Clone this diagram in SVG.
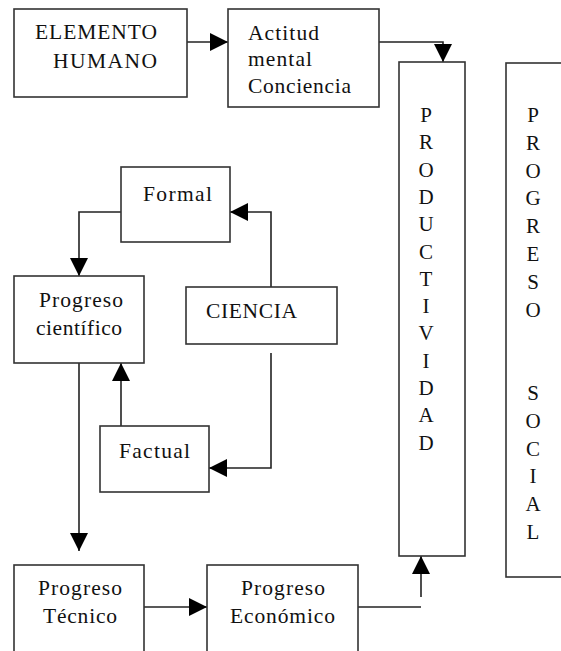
<svg xmlns="http://www.w3.org/2000/svg" width="561" height="651" viewBox="0 0 561 651">
<style>
.box{fill:#fff;stroke:#333;stroke-width:1.6}
.t{font-size:21.5px;fill:#111}
.v{font-size:21px;fill:#111;text-anchor:middle}
.c{fill:none;stroke:#222;stroke-width:1.6}
</style>
<defs>
<marker id="ah" viewBox="0 0 18 18" refX="18" refY="9" markerWidth="18" markerHeight="18" markerUnits="userSpaceOnUse" orient="auto">
<path d="M0,0 L18,9 L0,18 Z" fill="#000"/>
</marker>
</defs>
<rect width="561" height="651" fill="#fff"/>
<g id="connectors">
<path class="c" d="M187,42 H228" marker-end="url(#ah)"/>
<path class="c" d="M379,42 H443 V62" marker-end="url(#ah)"/>
<path class="c" d="M121,212 H79 V276" marker-end="url(#ah)"/>
<path class="c" d="M271,287 V212 H230" marker-end="url(#ah)"/>
<path class="c" d="M271,353 V468 H209" marker-end="url(#ah)"/>
<path class="c" d="M121,426 V363" marker-end="url(#ah)"/>
<path class="c" d="M79,360 V551" marker-end="url(#ah)"/>
<path class="c" d="M144,607 H207" marker-end="url(#ah)"/>
<path class="c" d="M358,607 H421"/>
<path class="c" d="M421,597 V556" marker-end="url(#ah)"/>
</g>
<g font-family="Liberation Serif, Times New Roman, serif">
<g id="elemento-humano">
<rect class="box" x="14" y="9" width="173" height="88"/>
<text class="t" x="35" y="39" textLength="122">ELEMENTO</text>
<text class="t" x="53" y="68" textLength="104">HUMANO</text>
</g>
<g id="actitud">
<rect class="box" x="228" y="9" width="151" height="98"/>
<text class="t" x="248" y="40" textLength="71">Actitud</text>
<text class="t" x="248" y="66" textLength="64">mental</text>
<text class="t" x="248" y="93" textLength="103">Conciencia</text>
</g>
<g id="productividad">
<rect class="box" x="399" y="62" width="66" height="494"/>
<text class="v" x="426" y="122">P</text>
<text class="v" x="426" y="149.3">R</text>
<text class="v" x="426" y="176.6">O</text>
<text class="v" x="426" y="203.9">D</text>
<text class="v" x="426" y="231.2">U</text>
<text class="v" x="426" y="258.5">C</text>
<text class="v" x="426" y="285.8">T</text>
<text class="v" x="426" y="313.1">I</text>
<text class="v" x="426" y="340.4">V</text>
<text class="v" x="426" y="367.7">I</text>
<text class="v" x="426" y="395">D</text>
<text class="v" x="426" y="422.3">A</text>
<text class="v" x="426" y="449.6">D</text>
</g>
<g id="progreso-social">
<rect class="box" x="506" y="63" width="80" height="514"/>
<text class="v" x="533" y="122">P</text>
<text class="v" x="533" y="149.8">R</text>
<text class="v" x="533" y="177.6">O</text>
<text class="v" x="533" y="205.4">G</text>
<text class="v" x="533" y="233.2">R</text>
<text class="v" x="533" y="261">E</text>
<text class="v" x="533" y="288.8">S</text>
<text class="v" x="533" y="316.6">O</text>
<text class="v" x="533" y="400">S</text>
<text class="v" x="533" y="427.8">O</text>
<text class="v" x="533" y="455.6">C</text>
<text class="v" x="533" y="483.4">I</text>
<text class="v" x="533" y="511.2">A</text>
<text class="v" x="533" y="539">L</text>
</g>
<g id="formal">
<rect class="box" x="121" y="167" width="109" height="75"/>
<text class="t" x="143" y="201" textLength="69">Formal</text>
</g>
<g id="progreso-cientifico">
<rect class="box" x="14" y="276" width="130" height="87"/>
<text class="t" x="39" y="307" textLength="84">Progreso</text>
<text class="t" x="36" y="335" textLength="86">científico</text>
</g>
<g id="ciencia">
<rect class="box" x="186" y="287" width="151" height="57"/>
<text class="t" x="206" y="318" textLength="91">CIENCIA</text>
</g>
<g id="factual">
<rect class="box" x="100" y="426" width="109" height="66"/>
<text class="t" x="119" y="458" textLength="71">Factual</text>
</g>
<g id="progreso-tecnico">
<rect class="box" x="14" y="565" width="130" height="100"/>
<text class="t" x="38" y="595" textLength="84">Progreso</text>
<text class="t" x="43" y="623" textLength="74">Técnico</text>
</g>
<g id="progreso-economico">
<rect class="box" x="207" y="565" width="151" height="100"/>
<text class="t" x="241" y="595" textLength="84">Progreso</text>
<text class="t" x="230" y="623" textLength="105">Económico</text>
</g>
</g>
</svg>
